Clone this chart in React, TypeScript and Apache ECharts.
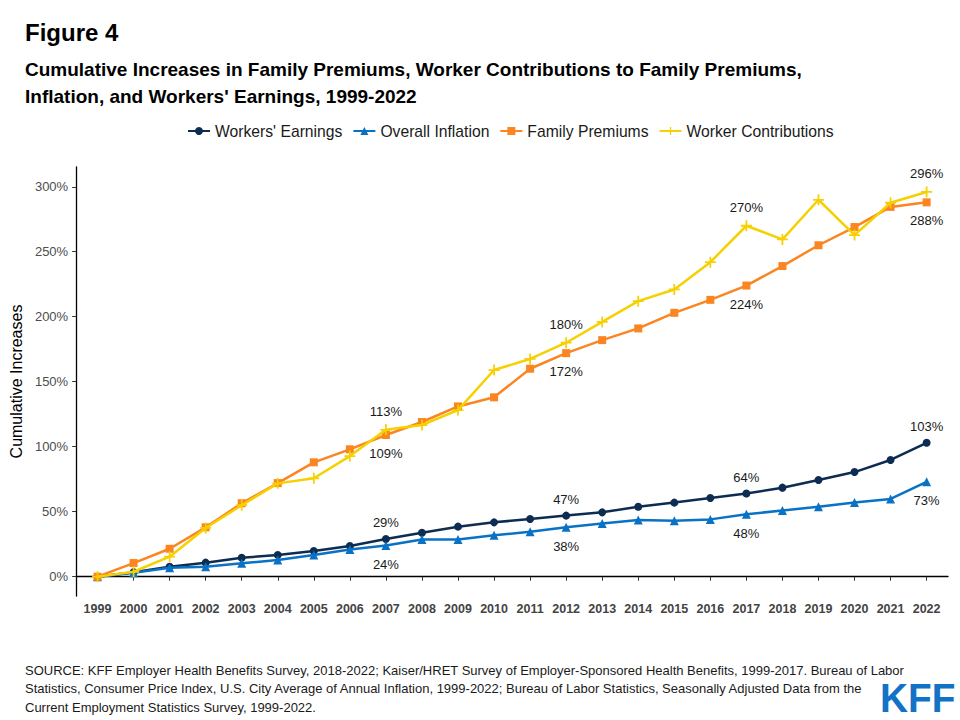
import React, { useEffect, useRef } from "react";
import * as echarts from "echarts";

const years = [1999, 2000, 2001, 2002, 2003, 2004, 2005, 2006, 2007, 2008, 2009, 2010, 2011, 2012, 2013, 2014, 2015, 2016, 2017, 2018, 2019, 2020, 2021, 2022];
const workersEarnings = [0, 3.5, 7.7, 10.8, 14.6, 16.7, 19.8, 23.6, 29, 33.8, 38.5, 41.8, 44.4, 47, 49.5, 53.8, 57, 60.5, 64, 68.5, 74.4, 80.5, 89.8, 103];
const overallInflation = [0, 3, 6.9, 7.7, 10.3, 12.8, 16.7, 21, 24, 28.7, 28.7, 31.8, 34.6, 38, 41, 43.6, 43, 44.1, 48, 51, 53.8, 57, 59.8, 73];
const familyPremiums = [0, 10.5, 21.5, 38, 56.5, 72, 88, 98, 109, 119, 131, 138, 160, 172, 182, 191, 203, 213, 224, 239, 255, 269, 284.5, 288];
const workerContributions = [0, 3.8, 15.4, 37.5, 55, 71.8, 75.7, 92.8, 113, 116.7, 128.2, 159, 167.5, 180, 196, 212, 221, 242, 270, 259.5, 290, 262.8, 287.7, 296];
const labeledYears = [2007, 2012, 2017, 2022];
const yTicks = [0, 50, 100, 150, 200, 250, 300];
const seriesNames = ["Workers' Earnings", "Overall Inflation", "Family Premiums", "Worker Contributions"];

const FONT = "'Liberation Sans', Arial, Helvetica, sans-serif";
const PLUS = "path://M4.2,0H5.8V4.2H10V5.8H5.8V10H4.2V5.8H0V4.2H4.2Z";

function buildData(values: number[], pos: "top" | "bottom") {
  return years.map((y, i) => {
    const item: any = { value: [y, values[i]] };
    if (labeledYears.includes(y)) {
      item.label = {
        show: true,
        position: pos,
        distance: pos === "top" ? 6 : 8,
        formatter: () => Math.round(values[i]) + "%",
        fontSize: 13,
        color: "#1a1a1a",
        fontFamily: FONT,
      };
    }
    return item;
  });
}

export default function App() {
  const ref = useRef<HTMLDivElement>(null);
  useEffect(() => {
    if (!ref.current) return;
    const chart = echarts.init(ref.current, undefined, { renderer: "svg" });
    const mk = (name: string, values: number[], color: string, symbol: string, size: number, pos: "top" | "bottom", z: number) => ({
      name,
      type: "line",
      data: buildData(values, pos),
      symbol,
      symbolSize: size,
      showSymbol: true,
      z,
      lineStyle: { color, width: 2.5 },
      itemStyle: { color, borderWidth: 0 },
      emphasis: { disabled: true },
    });
    chart.setOption({
      animation: false,
      backgroundColor: "#ffffff",
      textStyle: { fontFamily: FONT },
      title: [
        { text: "Figure 4", left: 25, top: 20, padding: 0, textStyle: { fontSize: 24, fontWeight: "bold", color: "#000", fontFamily: FONT } },
        {
          text: "Cumulative Increases in Family Premiums, Worker Contributions to Family Premiums,\nInflation, and Workers' Earnings, 1999-2022",
          left: 25,
          top: 56,
          padding: 0,
          textStyle: { fontSize: 19, fontWeight: "bold", lineHeight: 27, color: "#000", fontFamily: FONT },
        },
      ],
      legend: {
        top: 118,
        left: 182,
        itemWidth: 22,
        itemHeight: 10,
        itemGap: 10,
        data: seriesNames,
        textStyle: { fontSize: 15.7, color: "#1a1a1a", fontFamily: FONT },
      },
      grid: { left: 67, right: 12, top: 167, bottom: 124 },
      xAxis: {
        type: "value",
        min: 1998.407,
        max: 2022.593,
        axisLine: { show: true, lineStyle: { color: "#000", width: 1.3 } },
        axisTick: { show: true, customValues: years, length: 4, lineStyle: { color: "#333", width: 1 } },
        axisLabel: {
          customValues: years,
          formatter: (v: number) => String(Math.round(v)),
          fontWeight: "bold",
          fontSize: 12.5,
          color: "#444",
          margin: 6,
          fontFamily: FONT,
        },
        splitLine: { show: false },
      },
      yAxis: {
        type: "value",
        min: -14.85,
        max: 315.2,
        name: "Cumulative Increases",
        nameLocation: "middle",
        nameGap: 39,
        nameTextStyle: { fontSize: 16, color: "#000", fontFamily: FONT },
        axisLine: { show: true, lineStyle: { color: "#000", width: 1.3 } },
        axisTick: { show: true, customValues: yTicks, length: 4, lineStyle: { color: "#333", width: 1 } },
        axisLabel: {
          customValues: yTicks,
          formatter: (v: number) => Math.round(v) + "%",
          fontSize: 13,
          color: "#4d4d4d",
          margin: 8,
          fontFamily: FONT,
        },
        splitLine: { show: false },
      },
      series: [
        mk(seriesNames[0], workersEarnings, "#0d2c52", "circle", 8, "top", 2),
        mk(seriesNames[1], overallInflation, "#0a72c4", "triangle", 9, "bottom", 3),
        mk(seriesNames[2], familyPremiums, "#fb8520", "rect", 8, "bottom", 4),
        mk(seriesNames[3], workerContributions, "#f6d000", PLUS, 11, "top", 5),
      ],
      graphic: [
        {
          type: "text",
          left: 25,
          top: 661,
          style: {
            text: "SOURCE: KFF Employer Health Benefits Survey, 2018-2022; Kaiser/HRET Survey of Employer-Sponsored Health Benefits, 1999-2017. Bureau of Labor\nStatistics, Consumer Price Index, U.S. City Average of Annual Inflation, 1999-2022; Bureau of Labor Statistics, Seasonally Adjusted Data from the\nCurrent Employment Statistics Survey, 1999-2022.",
            fontSize: 13,
            lineHeight: 18.5,
            fill: "#1a1a1a",
            fontFamily: FONT,
          },
        },
        {
          type: "text",
          x: 880,
          y: 678,
          scaleX: 0.97,
          style: {
            text: "KFF",
            fontSize: 40,
            fontWeight: 900,
            fill: "#1272c6",
            fontFamily: FONT,
          },
        },
      ],
    });
    return () => chart.dispose();
  }, []);
  return <div ref={ref} style={{ position: "absolute", left: 0, top: 0, width: 960, height: 720 }} />;
}
